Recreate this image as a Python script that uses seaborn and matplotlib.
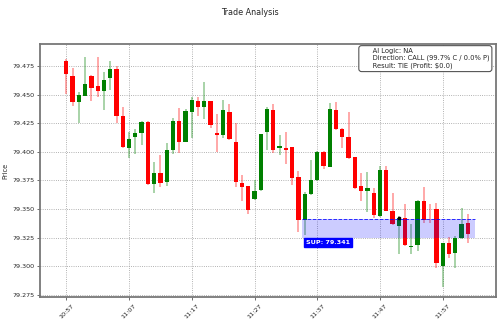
import numpy as np
import pandas as pd
import seaborn as sns
from matplotlib import pyplot as plt

# candle data, one per minute from 10:57 to 12:01
times = ['10:57', '10:58', '10:59', '11:00', '11:01', '11:02', '11:03', '11:04', '11:05', '11:06',
         '11:07', '11:08', '11:09', '11:10', '11:11', '11:12', '11:13', '11:14', '11:15', '11:16',
         '11:17', '11:18', '11:19', '11:20', '11:21', '11:22', '11:23', '11:24', '11:25', '11:26',
         '11:27', '11:28', '11:29', '11:30', '11:31', '11:32', '11:33', '11:34', '11:35', '11:36',
         '11:37', '11:38', '11:39', '11:40', '11:41', '11:42', '11:43', '11:44', '11:45', '11:46',
         '11:47', '11:48', '11:49', '11:50', '11:51', '11:52', '11:53', '11:54', '11:55', '11:56',
         '11:57', '11:58', '11:59', '12:00', '12:01']
opens = [79.4788, 79.4663, 79.4439, 79.4488, 79.4663, 79.4573, 79.4532, 79.4642, 79.4721, 79.4314,
         79.4032, 79.4128, 79.4160, 79.4262, 79.3718, 79.3811, 79.3741, 79.4017, 79.4270, 79.4090,
         79.4349, 79.4442, 79.4390, 79.4442, 79.4163, 79.4148, 79.4349, 79.4090, 79.3724, 79.3698,
         79.3587, 79.3669, 79.4177, 79.4363, 79.4032, 79.4032, 79.4038, 79.3782, 79.3407, 79.3631,
         79.3753, 79.4000, 79.3869, 79.4363, 79.4203, 79.4131, 79.3951, 79.3703, 79.3660, 79.3645,
         79.3436, 79.3840, 79.3485, 79.3355, 79.3422, 79.3169, 79.3190, 79.3573, 79.3452, 79.3500,
         79.3006, 79.3201, 79.3116, 79.3247, 79.3378]
highs = [79.4808, 79.4730, 79.4523, 79.4823, 79.4672, 79.4831, 79.4692, 79.4794, 79.4750, 79.4392,
         79.4169, 79.4198, 79.4267, 79.4267, 79.3907, 79.3971, 79.4081, 79.4299, 79.4381, 79.4372,
         79.4474, 79.4480, 79.4605, 79.4445, 79.4328, 79.4451, 79.4416, 79.4250, 79.3797, 79.3700,
         79.3753, 79.4157, 79.4387, 79.4416, 79.4145, 79.4169, 79.4040, 79.3834, 79.3651, 79.3927,
         79.4009, 79.4003, 79.4422, 79.4439, 79.4205, 79.4349, 79.3955, 79.3811, 79.3820, 79.3683,
         79.3878, 79.3878, 79.3645, 79.3442, 79.3544, 79.3369, 79.3578, 79.3689, 79.3549, 79.3550,
         79.3209, 79.3253, 79.3267, 79.3509, 79.3456]
lows = [79.4503, 79.4401, 79.4250, 79.4483, 79.4445, 79.4480, 79.4363, 79.4538, 79.4250, 79.4032,
        79.3950, 79.3980, 79.4061, 79.3715, 79.3642, 79.3689, 79.3703, 79.3980, 79.3994, 79.4087,
        79.4119, 79.4314, 79.4285, 79.4206, 79.4000, 79.4125, 79.4105, 79.3689, 79.3573, 79.3462,
        79.3581, 79.3660, 79.4015, 79.3994, 79.3974, 79.3892, 79.3712, 79.3297, 79.3273, 79.3625,
        79.3747, 79.3849, 79.3866, 79.4192, 79.4032, 79.3936, 79.3674, 79.3573, 79.3471, 79.3427,
        79.3433, 79.3480, 79.3363, 79.3113, 79.3180, 79.3113, 79.3131, 79.3375, 79.3375, 79.2991,
        79.2823, 79.3073, 79.2985, 79.3241, 79.3201]
closes = [79.4677, 79.4439, 79.4497, 79.4590, 79.4561, 79.4532, 79.4625, 79.4721, 79.4314, 79.4038,
          79.4110, 79.4163, 79.4262, 79.3718, 79.3811, 79.3724, 79.4017, 79.4270, 79.4090, 79.4352,
          79.4453, 79.4390, 79.4442, 79.4233, 79.4148, 79.4363, 79.4110, 79.3733, 79.3689, 79.3491,
          79.3660, 79.4154, 79.4372, 79.4015, 79.4052, 79.4017, 79.3776, 79.3407, 79.3631, 79.3753,
          79.4000, 79.3878, 79.4372, 79.4198, 79.4131, 79.3942, 79.3683, 79.3660, 79.3683, 79.3448,
          79.3840, 79.3485, 79.3369, 79.3422, 79.3190, 79.3180, 79.3573, 79.3407, 79.3448, 79.3029,
          79.3209, 79.3108, 79.3247, 79.3369, 79.3282]

support = 79.341
zone_low = 79.3247
zone_start = 37.5
zone_end = 65.2
entry_idx = 53
entry_price = 79.3422

info = ("     AI Logic: NA\n"
        "     Direction: CALL (99.7% C / 0.0% P)\n"
        "     Result: TIE (Profit: $0.0)")

df = pd.DataFrame({'time': times, 'open': opens, 'high': highs, 'low': lows, 'close': closes})
df['x'] = np.arange(len(df))
df['up'] = df['close'] >= df['open']
df['color'] = np.where(df['up'], 'green', 'red')

sns.set_style('whitegrid')
plt.rcParams['font.family'] = ['DejaVu Sans']

fig = plt.figure(figsize=(5, 3.24), dpi=100)
ax = fig.add_axes([0.08, 0.082, 0.912, 0.782])

# wicks
ax.vlines(df['x'], df['low'], df['high'], colors=df['color'], alpha=0.4, linewidth=1.2, zorder=2)
# bodies
body = (df['close'] - df['open']).abs().clip(lower=0.0003)
bottom = df[['open', 'close']].min(axis=1)
ax.bar(df['x'], body, bottom=bottom, width=0.68, color=df['color'], linewidth=0, zorder=3)

# support zone
ax.fill_between([zone_start, zone_end], zone_low, support, color='blue', alpha=0.2, linewidth=0, zorder=4)
ax.hlines(support, zone_start, zone_end, colors='blue', linestyles='--', linewidth=0.7, alpha=0.8, zorder=4)
ax.text(zone_start + 0.7, zone_low - 0.0035, 'SUP: %.3f' % support, color='white', fontsize=4.6,
        fontweight='bold', ha='left', va='center', zorder=6,
        bbox=dict(boxstyle='square,pad=0.3', facecolor='blue', edgecolor='blue'))
ax.plot([entry_idx], [entry_price], marker='s', color='black', markersize=1.8, zorder=5)

ax.text(0.985, 0.985, info, transform=ax.transAxes, fontsize=4.9, ha='right', va='top',
        multialignment='left', zorder=7,
        bbox=dict(boxstyle='round,pad=0.4', facecolor='white', edgecolor='#555555', linewidth=0.8))

ax.set_xlim(-4.2, 68.5)
ax.set_ylim(79.273, 79.494)
ticks = df['x'][::10]
ax.set_xticks(ticks)
ax.set_xticklabels(df['time'][::10], rotation=45, fontsize=4.6)
ax.set_yticks(np.arange(79.275, 79.476, 0.025))
ax.set_yticklabels(['%.3f' % v for v in np.arange(79.275, 79.476, 0.025)], fontsize=4.6)
ax.tick_params(axis='both', length=2, width=0.6, color='#555555', pad=2, bottom=True, left=True)
ax.grid(True, linestyle=':', color='#999999', linewidth=0.6)
for s in ax.spines.values():
    s.set_color('#777777')
    s.set_linewidth(1.3)
ax.set_ylabel('Price', fontsize=4.8, labelpad=3)
fig.suptitle('Trade Analysis', fontsize=5.8, y=0.975)

fig.savefig('out.png', dpi=100)
